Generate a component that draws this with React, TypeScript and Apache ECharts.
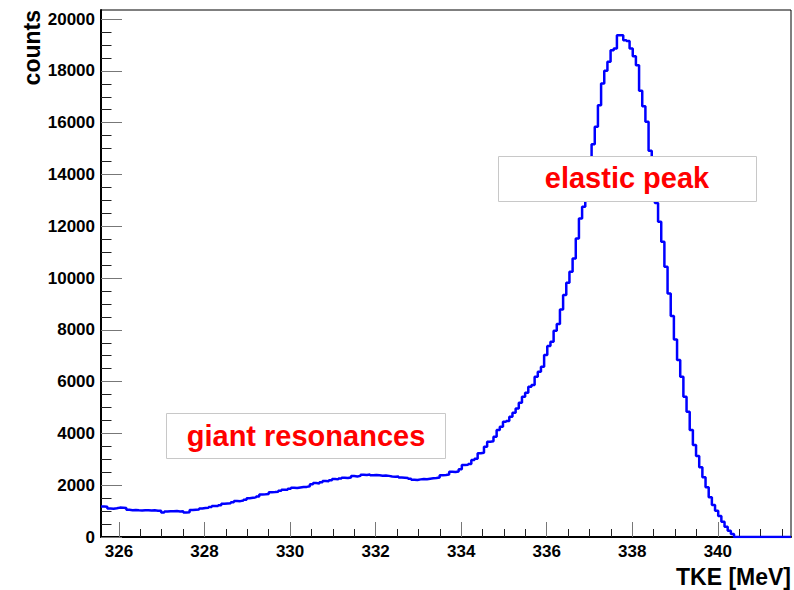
import React, { useEffect, useRef } from "react";
import * as echarts from "echarts";

// Histogram definition (TKE in MeV)
const HIST_MIN = 325.58;
const HIST_MAX = 341.71;
const N_BINS = 218;

// Bin contents (counts)
const COUNTS: number[] = [
  1180, 1170, 1100, 1090, 1110, 1135, 1130, 1120, 1050, 1035,
  1040, 1030, 1025, 1035, 1030, 1020, 1030, 1015, 1010, 945,
  985, 995, 990, 1000, 985, 990, 950, 955, 1040, 1055,
  1060, 1100, 1120, 1125, 1160, 1197, 1200, 1230, 1280, 1290,
  1300, 1340, 1390, 1385, 1410, 1440, 1500, 1519, 1530, 1560,
  1640, 1647, 1660, 1730, 1737, 1750, 1790, 1827, 1820, 1860,
  1905, 1890, 1915, 1930, 1935, 1960, 2040, 2085, 2070, 2110,
  2162, 2150, 2190, 2240, 2225, 2260, 2290, 2280, 2300, 2355,
  2340, 2360, 2407, 2395, 2410, 2380, 2390, 2380, 2368, 2375,
  2360, 2340, 2330, 2335, 2300, 2290, 2280, 2250, 2214, 2200,
  2225, 2240, 2230, 2250, 2265, 2278, 2300, 2380, 2393, 2410,
  2521, 2510, 2530, 2620, 2780, 2790, 2820, 2972, 3024, 3230,
  3250, 3487, 3680, 3700, 3872, 4130, 4258, 4450, 4480, 4644,
  4800, 4966, 5185, 5416, 5570, 5802, 5867, 6188, 6380, 6573,
  7025, 7373, 7540, 7964, 8222, 8789, 9341, 9816, 10240, 10757,
  11528, 12300, 12750, 13500, 14300, 15170, 15838, 16675, 17513, 18000,
  18347, 18800, 18863, 19377, 19377, 19184, 19150, 18863, 18567, 18220,
  17230, 16637, 16031, 14911, 13800, 12900, 12170, 11400, 10434, 9407,
  8531, 7631, 6832, 6188, 5416, 4837, 4130, 3551, 3127, 2690,
  2304, 1918, 1532, 1235, 1015, 810, 591, 398, 243, 116,
  0, 0, 0, 0, 0, 0, 0, 0, 0, 0,
  0, 0, 0, 0, 0, 0, 0, 0,
];

// Axis ticks
const X_MAJOR = [326, 328, 330, 332, 334, 336, 338, 340];
const X_MINOR = [
  326.5, 327, 327.5, 328.5, 329, 329.5, 330.5, 331, 331.5, 332.5, 333, 333.5,
  334.5, 335, 335.5, 336.5, 337, 337.5, 338.5, 339, 339.5, 340.5, 341, 341.5,
];
const Y_MAX = 20350;
const Y_MAJOR = [0, 2000, 4000, 6000, 8000, 10000, 12000, 14000, 16000, 18000, 20000];
const Y_MINOR = [
  500, 1000, 1500, 2500, 3000, 3500, 4500, 5000, 5500, 6500, 7000, 7500,
  8500, 9000, 9500, 10500, 11000, 11500, 12500, 13000, 13500, 14500, 15000,
  15500, 16500, 17000, 17500, 18500, 19000, 19500,
];

const X_TITLE = "TKE [MeV]";
const Y_TITLE = "counts";
const LABEL_GIANT = "giant resonances";
const LABEL_ELASTIC = "elastic peak";

const FONT = "'Liberation Sans', Arial, Helvetica, sans-serif";

export default function App() {
  const ref = useRef<HTMLDivElement>(null);

  useEffect(() => {
    if (!ref.current) return;
    const chart = echarts.init(ref.current, undefined, { renderer: "svg" });

    const binW = (HIST_MAX - HIST_MIN) / N_BINS;
    const points: number[][] = COUNTS.map((c, i) => [HIST_MIN + i * binW, c]);
    points.push([HIST_MAX, COUNTS[COUNTS.length - 1]]);

    const labelStyle = {
      fontSize: 17,
      fontWeight: "bold" as const,
      color: "#000",
      fontFamily: FONT,
      formatter: (v: number) => String(v),
    };

    chart.setOption({
      animation: false,
      backgroundColor: "#fff",
      grid: {
        left: 101,
        right: 3,
        top: 10,
        bottom: 53,
        show: true,
        borderColor: "#000",
        borderWidth: 1,
        backgroundColor: "transparent",
      },
      xAxis: [
        {
          type: "value",
          min: HIST_MIN,
          max: HIST_MAX,
          position: "bottom",
          axisLine: { show: true, onZero: false, lineStyle: { color: "#000", width: 2 } },
          axisTick: {
            show: true,
            inside: true,
            length: 15,
            customValues: X_MAJOR,
            lineStyle: { color: "#777", width: 1 },
          },
          axisLabel: { ...labelStyle, margin: 6, customValues: X_MAJOR },
          splitLine: { show: false },
        },
        {
          type: "value",
          min: HIST_MIN,
          max: HIST_MAX,
          position: "bottom",
          axisLine: { show: false },
          axisTick: {
            show: true,
            inside: true,
            length: 8,
            customValues: X_MINOR,
            lineStyle: { color: "#222", width: 1 },
          },
          axisLabel: { show: false },
          splitLine: { show: false },
        },
      ],
      yAxis: [
        {
          type: "value",
          min: 0,
          max: Y_MAX,
          position: "left",
          axisLine: { show: true, onZero: false, lineStyle: { color: "#000", width: 2 } },
          axisTick: {
            show: true,
            inside: true,
            length: 21,
            customValues: Y_MAJOR,
            lineStyle: { color: "#777", width: 1 },
          },
          axisLabel: { ...labelStyle, margin: 6, customValues: Y_MAJOR },
          splitLine: { show: false },
        },
        {
          type: "value",
          min: 0,
          max: Y_MAX,
          position: "left",
          axisLine: { show: false },
          axisTick: {
            show: true,
            inside: true,
            length: 10.5,
            customValues: Y_MINOR,
            lineStyle: { color: "#222", width: 1 },
          },
          axisLabel: { show: false },
          splitLine: { show: false },
        },
      ],
      series: [
        {
          type: "line",
          xAxisIndex: 0,
          yAxisIndex: 0,
          data: points,
          step: "end",
          symbol: "none",
          clip: true,
          lineStyle: { color: "#0000ff", width: 2.5 },
          z: 2,
        },
      ],
      graphic: [
        {
          type: "rect",
          z: 100,
          shape: { x: 166.5, y: 413.5, width: 279, height: 45 },
          style: { fill: "#fff", stroke: "#c8c8c8", lineWidth: 1 },
        },
        {
          type: "text",
          z: 101,
          x: 306,
          y: 436,
          style: {
            text: LABEL_GIANT,
            align: "center",
            verticalAlign: "middle",
            fontSize: 29,
            fontWeight: "bold",
            fontFamily: FONT,
            fill: "#ff0000",
          },
        },
        {
          type: "rect",
          z: 100,
          shape: { x: 498.5, y: 156.5, width: 258, height: 45 },
          style: { fill: "#fff", stroke: "#c8c8c8", lineWidth: 1 },
        },
        {
          type: "text",
          z: 101,
          x: 627,
          y: 178,
          style: {
            text: LABEL_ELASTIC,
            align: "center",
            verticalAlign: "middle",
            fontSize: 29,
            fontWeight: "bold",
            fontFamily: FONT,
            fill: "#ff0000",
          },
        },
        {
          type: "text",
          z: 101,
          x: 791,
          y: 577,
          style: {
            text: X_TITLE,
            align: "right",
            verticalAlign: "middle",
            fontSize: 23,
            fontWeight: "bold",
            fontFamily: FONT,
            fill: "#000",
          },
        },
        {
          type: "text",
          z: 101,
          x: 32,
          y: 10,
          rotation: Math.PI / 2,
          style: {
            text: Y_TITLE,
            align: "right",
            verticalAlign: "middle",
            fontSize: 23,
            fontWeight: "bold",
            fontFamily: FONT,
            fill: "#000",
          },
        },
      ],
    });

    return () => {
      chart.dispose();
    };
  }, []);

  return (
    <div
      ref={ref}
      style={{ position: "fixed", left: 0, top: 0, width: 794, height: 590, background: "#fff" }}
    />
  );
}
